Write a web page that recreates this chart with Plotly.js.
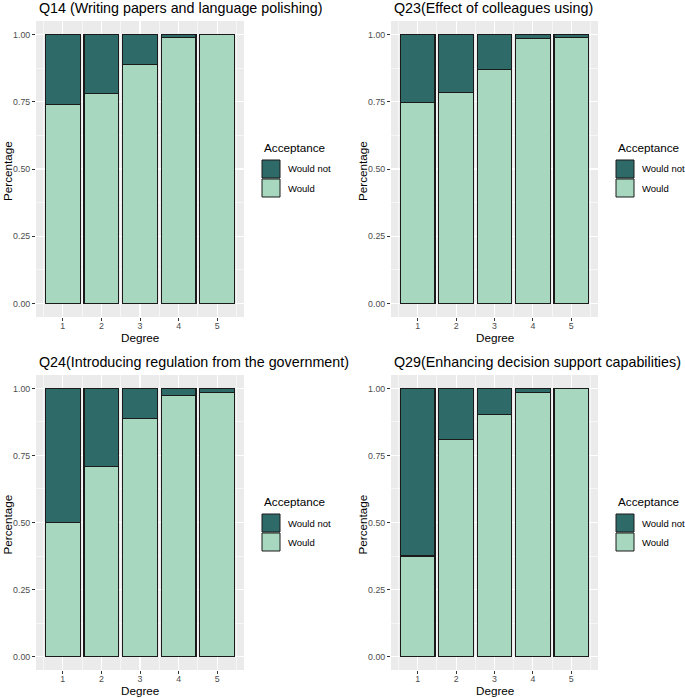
<!DOCTYPE html>
<html>
<head>
<meta charset="utf-8">
<script src="https://cdn.plot.ly/plotly-3.0.1.min.js"></script>
<style>html,body{margin:0;padding:0;background:#fff;}#chart{width:685px;height:698px;}</style>
</head>
<body>
<div id="chart"></div>
<script>
// ---- data ----
const degrees = [1, 2, 3, 4, 5];
const panelTitles = [
  "Q14 (Writing papers and language polishing)",
  "Q23(Effect of colleagues using)",
  "Q24(Introducing regulation from the government)",
  "Q29(Enhancing decision support capabilities)"
];
const q14Would    = [0.739, 0.782, 0.887, 0.990, 1.000];
const q14WouldNot = [0.261, 0.218, 0.113, 0.010, 0.000];
const q23Would    = [0.748, 0.783, 0.871, 0.984, 0.989];
const q23WouldNot = [0.252, 0.217, 0.129, 0.016, 0.011];
const q24Would    = [0.500, 0.709, 0.888, 0.975, 0.984];
const q24WouldNot = [0.500, 0.291, 0.112, 0.025, 0.016];
const q29Would    = [0.375, 0.809, 0.902, 0.986, 1.000];
const q29WouldNot = [0.625, 0.191, 0.098, 0.014, 0.000];
const yTickVals   = [0, 0.25, 0.5, 0.75, 1];
const yTickText   = ["0.00", "0.25", "0.50", "0.75", "1.00"];
const legendTitle = "Acceptance";
const legendLabels = ["Would not", "Would"];
const xTitle = "Degree";
const yTitle = "Percentage";

// ---- styling ----
const W = 685, H = 698;
const colWouldNot = "#2d6a68";
const colWould = "#a7d7bf";
const outline = {color: "#1a1a1a", width: 1.1};
const FONT = "Liberation Sans, Arial, sans-serif";
const px = x => x / W;
const py = y => 1 - y / H;

// panel boxes in pixels: [left, right, top, bottom]
const panels = [
  {l: 36,  r: 244, t: 21,  b: 317, would: q14Would, not: q14WouldNot},
  {l: 391, r: 598, t: 21,  b: 317, would: q23Would, not: q23WouldNot},
  {l: 36,  r: 244, t: 375, b: 670, would: q24Would, not: q24WouldNot},
  {l: 391, r: 598, t: 375, b: 670, would: q29Would, not: q29WouldNot}
];

const data = [];
const layout = {
  width: W, height: H,
  margin: {l: 0, r: 0, t: 0, b: 0},
  paper_bgcolor: "#ffffff",
  plot_bgcolor: "#ebebeb",
  barmode: "stack",
  bargap: 0.1,
  showlegend: false,
  font: {family: FONT, color: "#000"},
  annotations: [],
  shapes: []
};

panels.forEach((p, i) => {
  const n = i === 0 ? "" : String(i + 1);
  const xa = "x" + n, ya = "y" + n;
  data.push({
    type: "bar", x: degrees, y: p.would, name: legendLabels[1],
    xaxis: xa, yaxis: ya, width: 0.9,
    marker: {color: colWould, line: outline}, hoverinfo: "x+y"
  });
  data.push({
    type: "bar", x: degrees, y: p.not, name: legendLabels[0],
    xaxis: xa, yaxis: ya, width: 0.9,
    marker: {color: colWouldNot, line: outline}, hoverinfo: "x+y"
  });
  layout["xaxis" + n] = {
    domain: [px(p.l), px(p.r)], anchor: ya,
    range: [0.305, 5.695], tickvals: degrees, ticktext: degrees.map(String),
    showgrid: true, gridcolor: "#ffffff", gridwidth: 1.1, zeroline: false, showline: false,
    ticks: "outside", ticklen: 3, tickcolor: "#333333", tickwidth: 1,
    ticklabelstandoff: -3,
    tickfont: {size: 8.8, color: "#4d4d4d", family: FONT},
    minor: {tick0: 0.5, dtick: 1, showgrid: true, gridcolor: "#ffffff", gridwidth: 0.55, ticks: ""},
    fixedrange: true
  };
  layout["yaxis" + n] = {
    domain: [py(p.b), py(p.t)], anchor: xa,
    range: [-0.05, 1.05], tickvals: yTickVals, ticktext: yTickText,
    showgrid: true, gridcolor: "#ffffff", gridwidth: 1.1, zeroline: false, showline: false,
    ticks: "outside", ticklen: 3, tickcolor: "#333333", tickwidth: 1,
    tickfont: {size: 8.8, color: "#4d4d4d", family: FONT},
    minor: {tick0: 0.125, dtick: 0.25, showgrid: true, gridcolor: "#ffffff", gridwidth: 0.55, ticks: ""},
    fixedrange: true
  };
  // panel title
  layout.annotations.push({
    text: panelTitles[i], xref: "paper", yref: "paper",
    x: px(p.l + 1), y: py(p.t - 13), xanchor: "left", yanchor: "middle",
    showarrow: false, font: {size: 14.3, color: "#000", family: FONT}
  });
  // axis titles
  layout.annotations.push({
    text: xTitle, xref: "paper", yref: "paper",
    x: px((p.l + p.r) / 2), y: py(p.b + 20), xanchor: "center", yanchor: "middle",
    showarrow: false, font: {size: 11.7, color: "#000", family: FONT}
  });
  layout.annotations.push({
    text: yTitle, xref: "paper", yref: "paper",
    x: px(p.l - 29), y: py((p.t + p.b) / 2 + 2), xanchor: "center", yanchor: "middle",
    textangle: -90, showarrow: false, font: {size: 11.7, color: "#000", family: FONT}
  });
  // legend (title, keys, labels)
  const lx = p.r + 18;
  const ly = p.t + 126;
  layout.annotations.push({
    text: legendTitle, xref: "paper", yref: "paper",
    x: px(lx), y: py(ly), xanchor: "left", yanchor: "middle",
    showarrow: false, font: {size: 11.7, color: "#000", family: FONT}
  });
  const keyCols = [colWouldNot, colWould];
  [0, 1].forEach(k => {
    const top = ly + 13 + k * 19;
    layout.shapes.push({
      type: "rect", xref: "paper", yref: "paper",
      x0: px(lx), x1: px(lx + 18), y0: py(top + 18), y1: py(top),
      fillcolor: keyCols[k], line: {color: "#1a1a1a", width: 1}
    });
    layout.annotations.push({
      text: legendLabels[k], xref: "paper", yref: "paper",
      x: px(lx + 24), y: py(top + 9), xanchor: "left", yanchor: "middle",
      showarrow: false, font: {size: 9.5, color: "#000", family: FONT}
    });
  });
});

Plotly.newPlot("chart", data, layout, {displayModeBar: false, staticPlot: true});
</script>
</body>
</html>
